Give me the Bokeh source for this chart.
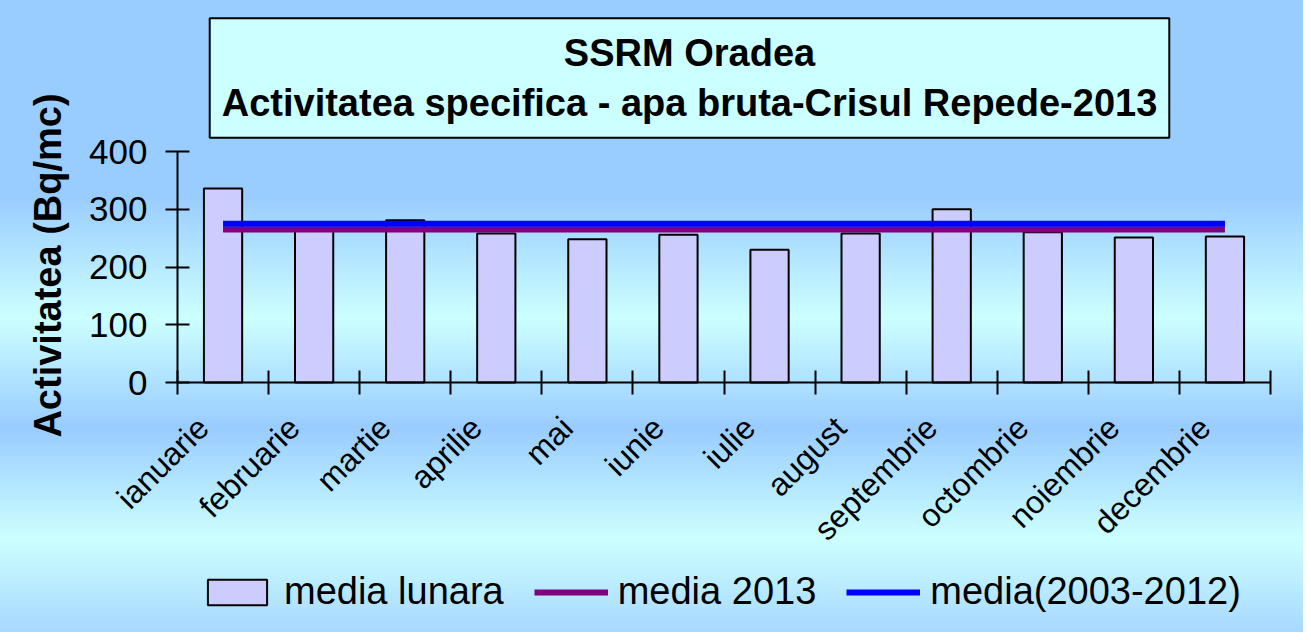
from bokeh.plotting import figure
from bokeh.models import (Range1d, FixedTicker, Legend, LegendItem, Label,
                          ColumnDataSource)
from bokeh.embed import file_html
from bokeh.resources import INLINE
import math

# ---- data ----
months = ["ianuarie", "februarie", "martie", "aprilie", "mai", "iunie",
          "iulie", "august", "septembrie", "octombrie", "noiembrie", "decembrie"]
media_lunara = [336, 265, 281, 258, 248, 256, 230, 258, 300, 260, 251, 253]
media_2013 = 265
media_2003_2012 = 275
y_ticks = [0, 100, 200, 300, 400]
title_lines = ["SSRM Oradea", "Activitatea specifica - apa bruta-Crisul Repede-2013"]
y_label = "Activitatea (Bq/mc)"
legend_labels = ["media lunara", "media 2013", "media(2003-2012)"]

FONT = "Liberation Sans"
n = len(months)
xc = [i + 0.5 for i in range(n)]
label_pos = [c - 0.22 for c in xc]   # rotated labels anchored slightly left of centre

# frame covers the whole figure; axes are drawn at the data origin
FIG_W, FIG_H = 1303, 632
ZERO_X, AXIS_W = 177, 1093     # px: x=0 position, width of 12 categories
ZERO_Y, AXIS_H = 382, 231      # px from top to value 0, height of 0..400
ppx = AXIS_W / n
ppy = AXIS_H / 400
x_start, x_end = -ZERO_X / ppx, (FIG_W - ZERO_X) / ppx
y_start, y_end = -(FIG_H - ZERO_Y) / ppy, ZERO_Y / ppy

p = figure(width=FIG_W, height=FIG_H, output_backend="svg", toolbar_location=None,
           x_range=Range1d(x_start, x_end), y_range=Range1d(y_start, y_end),
           min_border_left=0, min_border_right=0, min_border_top=0,
           min_border_bottom=0)
p.styles = {"background": "linear-gradient(to bottom, #99CCFF 0px, #99CCFF 195px, "
                          "#CCFFFF 318px, #99CCFF 428px, #CCFFFF 538px, #A8D8FF 632px)"}
p.border_fill_color = None
p.background_fill_color = None
p.outline_line_color = None
p.grid.visible = False

src = ColumnDataSource(dict(x=xc, top=media_lunara))
bars = p.vbar(x="x", top="top", width=0.42, bottom=0, source=src,
              fill_color="#CCCCFF", line_color="black", line_width=2)
xs_line = [xc[0], xc[-1]]
l1 = p.line(xs_line, [media_2013] * 2, line_color="#800080", line_width=6)
l2 = p.line(xs_line, [media_2003_2012] * 2, line_color="#0000FF", line_width=6)

# x axis drawn at value 0: boundary ticks, labels near centres
xa = p.xaxis[0]
xa.fixed_location = 0
xa.bounds = (0, n)
xa.ticker = FixedTicker(ticks=label_pos, minor_ticks=list(range(n + 1)))
xa.major_label_overrides = {c: m for c, m in zip(label_pos, months)}
xa.major_tick_line_color = None
xa.minor_tick_in = 12
xa.minor_tick_out = 12
xa.minor_tick_line_color = "black"
xa.minor_tick_line_width = 2
xa.axis_line_color = "black"
xa.axis_line_width = 2
xa.major_label_orientation = math.pi / 4
xa.major_label_text_font = FONT
xa.major_label_text_font_size = "32px"
xa.major_label_text_color = "black"
xa.major_label_standoff = 28

ya = p.yaxis[0]
ya.fixed_location = 0
ya.ticker = FixedTicker(ticks=y_ticks)
ya.bounds = (0, 400)
ya.minor_tick_line_color = None
ya.major_tick_in = 12
ya.major_tick_out = 12
ya.major_tick_line_width = 2
ya.major_tick_line_color = "black"
ya.axis_line_color = "black"
ya.axis_line_width = 2
ya.major_label_text_font = FONT
ya.major_label_text_font_size = "35px"
ya.major_label_text_color = "black"
ya.major_label_standoff = 18

# y axis title
ylab = Label(x=47, y=FIG_H - 265, x_units="screen", y_units="screen",
             text=y_label, angle=math.pi / 2, text_align="center",
             text_baseline="middle", text_font=FONT, text_font_size="38px",
             text_font_style="bold", text_color="black")
p.add_layout(ylab)

# title box
title = Label(x=689, y=FIG_H - 77.5, x_units="screen", y_units="screen",
              text="\n".join(title_lines), text_align="center",
              text_baseline="middle", text_font=FONT, text_font_size="38px",
              text_font_style="bold", text_color="black", text_line_height=1.18,
              background_fill_color="#CCFFFF", border_line_color="black",
              border_line_width=2, padding=(12, 14))
p.add_layout(title)

legend = Legend(items=[LegendItem(label=legend_labels[0], renderers=[bars]),
                       LegendItem(label=legend_labels[1], renderers=[l1]),
                       LegendItem(label=legend_labels[2], renderers=[l2])],
                orientation="horizontal", location=(200, 19),
                glyph_width=74, glyph_height=32, label_height=32,
                label_standoff=10, spacing=30, padding=0, margin=0,
                label_text_font=FONT, label_text_font_size="38px",
                label_text_color="black",
                background_fill_alpha=0, border_line_color=None)
p.add_layout(legend)

open("out.html", "w").write(file_html(p, INLINE))
